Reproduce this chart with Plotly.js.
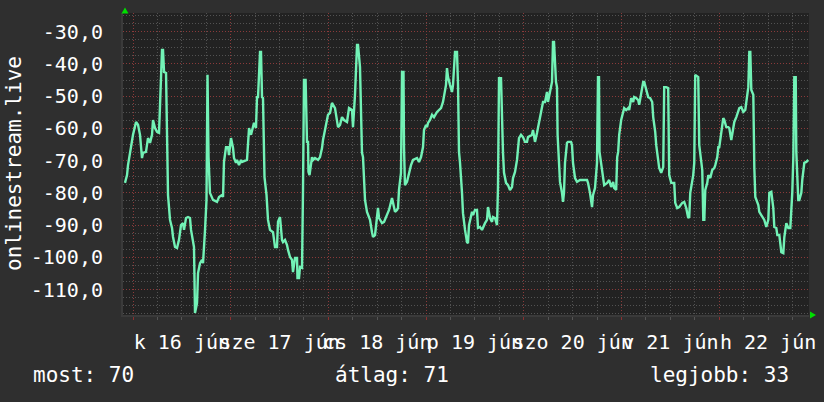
<!DOCTYPE html>
<html><head><meta charset="utf-8">
<script src="https://cdn.plot.ly/plotly-3.0.1.min.js"></script>
<style>html,body{margin:0;padding:0;background:#2f2f2f;}#chart{width:824px;height:402px;}</style>
</head><body><div id="chart"></div>
<script>
// hours relative to 2020-06-16 00:00
const hours = [-1.97,-1.47,-1.23,-0.74,-0.25,0,0.74,1.23,1.72,2.21,2.46,3.19,3.68,4.18,4.67,4.91,5.40,5.90,6.39,6.63,7.12,7.37,7.62,8.11,8.35,8.60,9.09,9.58,9.83,10.32,10.81,11.30,11.79,12.28,12.53,13.02,13.51,14.00,14.25,14.74,14.98,15.23,15.72,15.97,16.46,16.95,17.20,17.69,18.05,18.30,18.55,18.90,19.65,20.63,21.13,21.86,22.11,22.35,22.85,23.34,23.58,24.07,24.57,24.81,25.30,25.55,26.04,26.53,26.78,28.00,28.25,28.50,28.99,29.48,29.72,30.21,30.46,30.71,31.20,31.44,31.69,31.93,32.18,32.30,32.80,33.16,33.65,34.39,34.88,35.37,35.62,36.11,36.60,36.85,37.34,37.83,38.08,38.57,39.06,39.30,39.80,40.29,40.40,40.78,41.02,41.52,41.76,42.00,42.40,42.74,42.99,43.10,43.36,43.97,44.22,44.71,45.45,45.94,46.43,46.67,47.16,47.66,47.90,48.39,48.88,49.62,50.11,50.36,50.85,51.34,51.83,52.57,53.06,53.80,54.04,54.53,55.03,55.27,55.76,56.25,56.50,56.99,57.48,57.97,58.22,58.71,58.96,59.45,59.94,60.18,60.43,61.17,61.66,62.39,62.89,63.62,63.87,64.36,64.85,65.10,65.34,65.83,66.08,66.45,66.57,66.80,67.31,67.80,68.29,68.78,69.76,70.25,70.75,71.24,71.48,71.98,72.22,72.47,72.96,73.45,73.94,74.68,75.17,75.66,76.15,76.40,76.89,77.13,77.38,77.87,78.36,78.61,79.10,79.59,79.84,80.08,80.33,80.82,81.06,81.56,82.05,82.29,82.54,83.28,83.52,84.01,84.50,84.75,85.24,85.73,85.98,86.47,86.96,87.21,87.70,88.19,88.43,88.93,89.42,89.66,89.91,90.40,90.89,91.14,91.63,92.12,92.61,93.10,93.35,93.84,94.33,94.82,95.31,95.80,96.29,96.79,97.03,98.01,98.26,98.75,99.24,99.49,99.98,100.47,100.72,101.21,101.70,101.94,102.44,102.93,103.17,103.42,103.91,104.15,104.30,104.64,104.89,105.38,105.63,105.87,106.12,106.61,106.86,107.60,107.84,108.09,108.58,109.07,109.81,110.55,111.53,111.77,112.26,112.76,113.00,113.49,113.98,114.23,114.47,114.60,115.50,115.74,116.48,116.97,117.46,117.95,118.20,118.69,118.94,119.18,119.43,119.92,120.41,120.66,121.15,121.64,121.89,122.38,122.87,123.11,123.60,124.10,124.34,124.84,125.33,125.58,126.07,126.56,127.05,127.54,127.79,128.28,128.53,129.02,129.26,129.75,130.25,130.49,130.98,131.47,131.60,131.72,132.21,132.95,133.20,133.69,134.18,134.92,135.41,135.90,136.39,136.64,136.89,137.38,137.62,137.87,138.11,138.85,139.10,139.84,140.09,140.34,140.58,141.07,141.32,141.81,142.30,142.79,143.04,143.53,143.78,144.02,144.51,145.00,145.25,145.74,146.23,146.48,146.97,147.46,147.71,148.20,148.69,148.94,149.43,149.92,150.41,150.66,151.15,151.40,151.64,151.89,152.38,152.63,152.87,153.61,153.85,154.34,154.84,155.08,155.57,156.07,156.31,156.80,157.29,157.54,158.03,158.28,158.77,159.26,159.75,160.00,160.49,160.98,161.47,161.96,162.21,162.45,162.80,162.94,163.43,163.68,164.17,164.41,164.91,165.40,165.89];
const values = [-76.9,-74.5,-71.4,-67.6,-65.2,-62.0,-58.0,-58.9,-62.0,-69.2,-67.6,-67.3,-63.0,-64.5,-62.0,-57.4,-59.9,-61.1,-61.4,-53.4,-35.7,-35.7,-42.5,-42.8,-66.1,-80.7,-88.4,-90.9,-93.7,-96.8,-97.1,-94.6,-90.0,-89.4,-91.5,-87.8,-87.5,-87.8,-91.5,-95.6,-96.8,-117.3,-114.2,-104.9,-101.8,-100.8,-101.8,-91.5,-82.2,-43.4,-68.9,-80.0,-82.2,-82.8,-81.3,-80.7,-81.3,-70.4,-65.8,-65.8,-68.3,-63.0,-66.1,-69.2,-70.7,-69.8,-71.4,-69.8,-70.4,-69.8,-63.0,-59.9,-62.0,-59.6,-58.3,-59.9,-50.3,-50.3,-36.3,-36.3,-50.3,-50.6,-72.9,-75.1,-80.7,-88.4,-91.5,-92.2,-96.8,-96.8,-89.0,-87.5,-94.6,-95.3,-94.6,-96.2,-97.7,-99.9,-100.8,-104.6,-100.2,-100.2,-106.4,-106.4,-103.0,-103.3,-79.1,-45.0,-45.0,-64.2,-64.2,-73.5,-74.5,-68.9,-69.8,-69.2,-69.8,-68.9,-66.1,-63.6,-60.5,-57.4,-55.8,-55.2,-52.1,-53.7,-58.3,-59.6,-58.9,-56.5,-57.4,-58.0,-53.7,-54.3,-59.6,-49.6,-34.1,-34.1,-41.0,-67.6,-68.9,-82.2,-85.9,-87.8,-88.4,-92.2,-93.7,-93.1,-87.5,-84.7,-87.8,-89.4,-89.0,-86.9,-85.3,-81.6,-83.1,-85.9,-85.3,-84.7,-79.1,-73.8,-42.5,-42.5,-65.8,-77.6,-76.6,-73.5,-71.4,-69.8,-69.2,-70.4,-68.9,-65.8,-60.5,-58.9,-59.6,-58.3,-57.4,-55.8,-56.5,-54.9,-54.3,-53.7,-51.8,-49.6,-46.5,-41.3,-44.1,-46.5,-48.7,-46.5,-36.3,-36.3,-46.5,-67.3,-70.7,-80.0,-86.3,-91.5,-95.3,-95.6,-90.0,-85.9,-86.9,-85.3,-85.3,-90.9,-90.6,-91.5,-90.6,-89.4,-88.4,-84.4,-87.8,-89.0,-87.5,-87.8,-90.0,-78.2,-44.4,-44.4,-67.6,-73.8,-76.9,-77.6,-79.1,-78.2,-75.4,-73.5,-69.8,-63.0,-62.0,-62.7,-64.2,-64.2,-62.7,-62.0,-60.5,-64.2,-61.4,-59.6,-56.5,-53.7,-51.8,-51.8,-48.7,-51.8,-48.1,-45.6,-33.2,-33.2,-45.6,-47.2,-62.0,-72.0,-76.6,-80.0,-82.8,-80.0,-70.7,-64.5,-64.2,-64.2,-65.2,-70.7,-75.4,-76.6,-76.0,-76.0,-76.0,-76.9,-80.0,-84.4,-80.7,-78.5,-70.7,-44.1,-44.1,-67.3,-76.9,-77.6,-76.9,-76.0,-78.2,-76.6,-78.5,-79.1,-68.9,-67.3,-62.0,-57.4,-54.9,-53.7,-54.3,-53.7,-54.3,-50.6,-51.8,-50.3,-50.6,-51.2,-52.7,-49.6,-45.6,-45.6,-48.1,-50.3,-50.6,-51.8,-56.5,-61.1,-65.2,-70.4,-72.3,-73.8,-72.0,-47.2,-47.2,-47.5,-66.7,-74.5,-76.9,-76.9,-83.1,-84.7,-84.4,-83.1,-82.8,-84.7,-87.8,-87.5,-80.0,-76.9,-74.5,-70.7,-43.4,-44.1,-65.2,-72.9,-88.4,-88.4,-79.1,-76.9,-74.5,-75.4,-72.9,-72.3,-71.4,-68.9,-65.8,-65.8,-62.0,-56.8,-57.4,-59.6,-59.6,-59.9,-63.6,-59.9,-58.0,-56.5,-54.9,-53.7,-53.4,-54.9,-54.3,-51.2,-47.2,-36.3,-36.3,-48.1,-49.6,-72.3,-81.3,-83.8,-85.9,-86.9,-87.8,-88.4,-90.6,-88.4,-80.0,-79.7,-84.7,-90.6,-90.9,-93.1,-93.1,-98.4,-98.7,-93.7,-89.4,-90.9,-90.9,-79.7,-68.9,-44.1,-44.1,-67.3,-82.2,-82.2,-80.0,-76.0,-70.7,-70.4,-69.8];
const dayLabels = ['k 16 jún','sze 17 jún','cs 18 jún','p 19 jún','szo 20 jún','v 21 jún','h 22 jún'];
const dayLabelDates = ['2020-06-16 12:00','2020-06-17 12:00','2020-06-18 12:00','2020-06-19 12:00','2020-06-20 12:00','2020-06-21 12:00','2020-06-22 12:00'];
const yTickVals = [-110,-100,-90,-80,-70,-60,-50,-40,-30];
const yTickText = ['-110,0','-100,0','-90,0','-80,0','-70,0','-60,0','-50,0','-40,0','-30,0'];
const seriesName = 'onlinestream.live';
const statLabels = ['most: 70','átlag: 71','legjobb: 33'];

const base = Date.UTC(2020,5,16);
function d(h){ return new Date(base + h*3600000).toISOString().replace('T',' ').replace('Z',''); }
const xs = hours.map(d);
const xRange = [d(-2.46), d(166.06)];

// layout geometry (pixels)
const L=123, R=809, T=13, B=315, W=824, H=402;
const pw=R-L, ph=B-T;
function px(x){return (x-L)/pw;}
function py(y){return (B-y)/ph;}

const font = 'DejaVu Sans Mono, monospace';
const redGrid = '#8a3a3a', grayGrid = '#525252';

const trace = {x: xs, y: values, type:'scatter', mode:'lines', name: seriesName,
  line:{color:'#72f2b6', width:2.4}, hoverinfo:'skip'};
// carrier trace so the label axis is drawn (no visible marks)
const labelCarrier = {x: dayLabelDates, y: dayLabelDates.map(()=>null), xaxis:'x2', yaxis:'y',
  type:'scatter', mode:'lines', hoverinfo:'skip', showlegend:false};

const layout = {
  width:W, height:H, margin:{l:L, r:W-R, t:T, b:H-B, pad:0},
  paper_bgcolor:'#2f2f2f', plot_bgcolor:'#222222', showlegend:false,
  xaxis:{type:'date', range:xRange, tickmode:'linear', tick0:'2020-06-16', dtick:86400000,
    showticklabels:false, showgrid:true, gridcolor:redGrid, griddash:'1px,2px', gridwidth:1,
    ticks:'outside', ticklen:3, tickcolor:'#8a3030', showline:true, linecolor:'#3a3a3a', linewidth:2,
    zeroline:false,
    minor:{dtick:21600000, tick0:'2020-06-16', showgrid:true, gridcolor:grayGrid, griddash:'1px,2px', ticks:'outside', ticklen:3, tickcolor:'#555555'}},
  xaxis2:{type:'date', overlaying:'x', anchor:'y', side:'bottom', range:xRange,
    tickmode:'array', tickvals:dayLabelDates, ticktext:dayLabels, tickangle:0, showgrid:false, zeroline:false,
    showline:false, ticks:'', ticklabelstandoff:13, tickfont:{family:font, size:20, color:'#ffffff'}},
  yaxis:{range:[-117.9,-24.2], tickmode:'array', tickvals:yTickVals, ticktext:yTickText,
    showgrid:true, gridcolor:redGrid, griddash:'1px,2px', zeroline:false,
    ticks:'', ticklabelstandoff:14, tickfont:{family:font, size:20, color:'#ffffff'},
    showline:true, linecolor:'#3a3a3a', linewidth:2,
    minor:{dtick:2.5, tick0:-30, showgrid:true, gridcolor:grayGrid, griddash:'1px,2px'}},
  annotations:[
    {text:seriesName, xref:'paper', yref:'paper', x:px(14), y:0.5, textangle:-90, showarrow:false,
      xanchor:'center', yanchor:'middle', font:{family:font, size:21, color:'#ffffff'}},
    {text:statLabels[0], xref:'paper', yref:'paper', x:px(31), y:py(375), showarrow:false, xanchor:'left', yanchor:'middle', font:{family:font, size:21, color:'#ffffff'}},
    {text:statLabels[1], xref:'paper', yref:'paper', x:px(333), y:py(375), showarrow:false, xanchor:'left', yanchor:'middle', font:{family:font, size:21, color:'#ffffff'}},
    {text:statLabels[2], xref:'paper', yref:'paper', x:px(648), y:py(375), showarrow:false, xanchor:'left', yanchor:'middle', font:{family:font, size:21, color:'#ffffff'}}
  ],
  shapes:[
    {type:'path', xref:'paper', yref:'paper', layer:'above',
      path:`M ${px(121.5)} ${py(13.5)} L ${px(128.5)} ${py(13.5)} L ${px(125)} ${py(7.5)} Z`,
      fillcolor:'#00e000', line:{width:0}},
    {type:'path', xref:'paper', yref:'paper', layer:'above',
      path:`M ${px(810)} ${py(311.5)} L ${px(810)} ${py(318.5)} L ${px(816)} ${py(315)} Z`,
      fillcolor:'#00e000', line:{width:0}}
  ]
};
Plotly.newPlot('chart', [trace, labelCarrier], layout, {staticPlot:true, displayModeBar:false});
</script></body></html>
